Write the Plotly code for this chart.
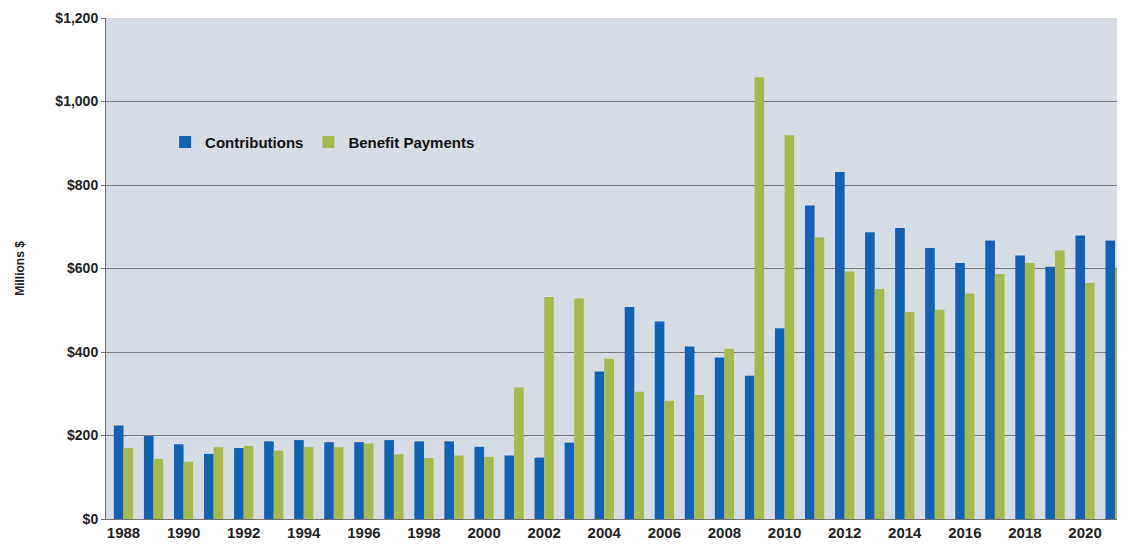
import plotly.graph_objects as go

years = list(range(1988, 2022))
contributions = [224, 199, 179, 156, 170, 186, 189, 184, 184, 189, 186, 186, 173,
                 152, 147, 183, 353, 508, 473, 413, 387, 343, 457, 751, 831, 687,
                 697, 649, 613, 667, 631, 604, 679, 667]
benefits = [170, 144, 137, 172, 175, 164, 172, 172, 181, 155, 146, 152, 149,
            315, 532, 528, 384, 305, 283, 297, 408, 1058, 919, 675, 593, 551,
            496, 501, 540, 587, 613, 643, 565, 600]
tick_years = list(range(1988, 2021, 2))
y_ticks = [0, 200, 400, 600, 800, 1000, 1200]
y_labels = ["$0", "$200", "$400", "$600", "$800", "$1,000", "$1,200"]

font_family = "Liberation Sans, Arial, sans-serif"

fig = go.Figure()
fig.add_trace(go.Bar(x=years, y=contributions, name="Contributions",
                     marker=dict(color="#1162B5", line=dict(width=0))))
fig.add_trace(go.Bar(x=years, y=benefits, name="Benefit Payments",
                     marker=dict(color="#A6BA4C", line=dict(width=0))))

fig.update_layout(
    width=1117, height=536,
    margin=dict(l=98, r=0, t=10, b=25),
    paper_bgcolor="white",
    plot_bgcolor="#D6DCE3",
    barmode="group",
    bargap=0.36,
    bargroupgap=0.0,
    font=dict(family=font_family, color="#222222"),
    legend=dict(orientation="h", x=0.058, y=0.752, xanchor="left", yanchor="middle",
                bgcolor="rgba(0,0,0,0)",
                font=dict(size=15, family=font_family, weight="bold", color="#111111"),
                itemwidth=30, traceorder="normal"),
    showlegend=True,
)
fig.update_xaxes(
    range=[1987.418, 2021.33],
    tickmode="array", tickvals=tick_years, ticktext=[str(y) for y in tick_years],
    tickfont=dict(size=15, family=font_family, weight="bold", color="#222222"),
    showgrid=False, showline=True, linecolor="#707070", linewidth=1,
    ticks="", zeroline=False,
)
fig.update_yaxes(
    range=[0, 1200],
    tickmode="array", tickvals=y_ticks, ticktext=y_labels,
    tickfont=dict(size=14, family=font_family, weight="bold", color="#222222"),
    showgrid=True, gridcolor="#7A7A7A", gridwidth=1,
    showline=True, linecolor="#707070", linewidth=1,
    ticks="outside", ticklen=4, tickcolor="#707070",
    zeroline=False,
    title=dict(text="Millions $", font=dict(size=12, family=font_family, weight="bold",
                                            color="#222222"), standoff=28),
)

fig.write_html("out.html")
